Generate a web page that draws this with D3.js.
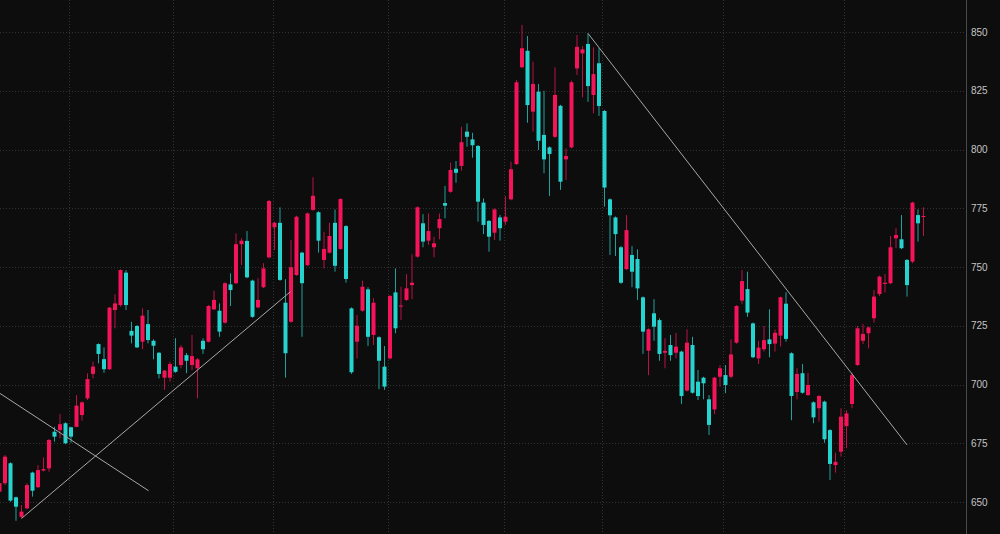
<!DOCTYPE html>
<meta charset="utf-8">
<style>
body { margin: 0; background: #0d0d0d; }
svg { display: block; }
.grid line { stroke: #333; stroke-width: 1; stroke-dasharray: 1 2; shape-rendering: crispEdges; }
.ylabel { font: 10px "Liberation Sans", sans-serif; fill: #c4c4c4; }
.trend { stroke: #a8a8a8; stroke-width: 1; fill: none; }
</style>
<body>
<script src="https://cdn.jsdelivr.net/npm/d3@7"></script>
<script>

// one value per candle, index 0..168
var open = [
654.4,658.0,666.5,652.0,643.7,647.3,662.5,656.3,663.4,664.3,
679.9,680.6,683.5,681.8,682.0,687.0,694.1,704.5,717.2,710.8,
706.5,731.7,733.8,747.6,722.8,724.9,718.2,725.7,718.6,713.5,
702.9,702.9,707.6,708.3,712.5,708.3,706.9,718.6,718.2,732.0,
731.4,726.3,742.6,743.1,759.7,761.1,744.2,732.8,741.4,754.1,
766.9,768.8,734.8,726.7,746.6,756.1,750.8,774.3,773.3,753.0,
756.1,768.8,757.7,767.4,732.4,718.2,731.4,740.5,721.1,720.1,
707.6,711.1,739.2,733.2,736.0,742.3,754.4,768.6,761.2,758.4,
766.5,777.2,782.0,791.8,793.0,807.6,804.3,801.5,777.4,769.6,
764.6,771.1,769.3,778.8,793.8,835.0,842.0,816.1,824.6,806.2,
800.9,805.4,818.6,795.8,800.9,834.5,840.9,844.9,823.2,836.7,
816.4,778.8,771.1,758.4,749.1,755.1,753.4,737.1,714.4,730.3,
727.4,713.5,716.8,713.5,714.0,697.4,716.8,701.2,702.9,693.7,
689.4,703.3,704.0,703.3,717.8,735.7,740.6,726.0,711.1,715.0,
719.2,717.4,720.8,734.4,713.3,696.8,704.8,695.5,692.4,689.9,
692.7,680.6,665.7,671.4,682.3,691.7,708.3,718.6,721.8,728.2,
738.5,742.8,743.1,762.2,761.8,753.0,752.3,772.1,771.4];

var high = [
658.5,670.0,666.9,652.3,648.7,658.0,662.9,665.7,669.0,676.8,
682.0,687.4,683.9,682.0,695.5,692.8,704.8,709.7,717.5,715.8,
733.0,738.4,749.0,748.7,726.7,725.3,732.4,731.7,719.2,713.8,
706.2,709.7,719.7,716.8,713.4,721.1,711.3,719.7,733.8,739.9,
734.5,743.5,747.3,764.3,762.2,765.3,744.6,745.2,751.6,778.5,
769.3,775.4,744.8,761.5,771.8,756.5,773.2,788.2,773.7,765.0,
768.8,774.5,779.3,767.8,732.8,729.6,744.2,741.4,736.7,720.5,
716.4,738.1,749.4,741.6,746.9,755.4,775.8,772.5,772.8,762.9,
772.8,784.5,794.4,795.1,809.7,811.1,807.1,801.9,779.2,770.0,
774.9,772.1,780.2,794.8,829.6,853.0,848.3,837.4,827.9,825.0,
801.3,835.0,819.0,800.5,829.3,848.7,844.0,849.4,843.5,843.1,
816.8,779.2,771.5,758.9,772.1,758.9,757.5,737.5,723.9,736.3,
728.2,719.7,721.1,722.0,714.4,723.5,720.3,706.2,703.3,695.5,
703.3,708.3,708.3,719.2,733.8,748.7,748.0,726.4,718.6,724.9,
732.0,723.4,737.4,739.3,713.7,706.9,708.7,705.0,692.8,695.5,
693.1,681.0,671.0,689.9,689.1,705.0,724.9,725.7,724.7,740.2,
746.3,747.0,763.2,766.5,772.1,753.4,777.8,774.5,775.4];

var low = [
653.8,657.2,650.1,642.0,643.1,646.9,652.3,655.9,663.0,662.9,
675.7,677.1,674.6,675.2,681.8,684.6,693.4,702.6,709.0,705.0,
706.2,723.9,733.1,731.7,717.5,715.5,715.0,717.5,710.7,702.6,
697.7,701.2,705.0,706.9,704.8,706.2,694.1,713.0,717.9,731.6,
720.3,725.9,733.4,742.7,750.8,745.2,728.4,732.4,741.0,753.7,
757.2,744.1,702.9,726.3,746.2,720.3,750.4,773.9,756.1,749.4,
755.7,748.0,757.3,743.3,704.5,711.1,731.0,716.4,716.8,698.0,
697.7,710.7,721.8,727.4,735.6,736.3,754.0,758.4,759.4,754.1,
761.8,770.7,781.6,785.9,791.0,801.2,796.5,769.3,764.0,756.5,
761.5,761.2,767.9,778.4,793.4,834.6,811.4,807.6,799.8,789.9,
780.2,805.0,782.8,787.0,800.5,831.7,822.2,820.3,815.4,814.3,
775.7,755.1,754.7,742.8,748.7,741.4,736.0,713.0,704.0,718.6,
710.1,706.9,710.1,711.1,691.7,697.0,696.1,693.4,693.7,678.5,
687.4,699.1,696.3,702.6,717.4,734.3,728.8,711.2,708.7,714.0,
711.6,714.0,716.2,718.2,684.8,693.7,696.1,695.1,683.5,684.2,
675.2,659.4,662.5,669.3,672.9,689.9,707.9,717.2,715.4,726.3,
737.7,739.1,742.7,758.0,757.6,737.4,751.6,760.8,763.2];

var close = [
658.0,669.3,650.6,648.0,645.9,657.2,654.8,663.6,664.0,676.4,
677.8,683.1,675.0,677.8,691.0,692.4,702.3,707.6,713.0,706.5,
732.7,734.5,748.7,733.8,720.8,715.8,729.3,718.9,716.5,704.5,
705.9,708.7,705.4,715.8,710.1,712.1,710.7,715.0,733.4,736.0,
722.5,743.1,740.2,759.7,761.2,745.6,728.8,736.0,749.4,778.1,
768.8,744.5,713.3,749.9,771.4,743.1,772.8,780.3,761.2,757.7,
763.2,750.5,778.9,744.9,705.2,725.0,741.6,720.3,734.8,710.1,
699.1,737.7,723.9,733.6,740.9,743.3,775.4,760.8,765.3,760.1,
770.4,776.1,791.3,790.1,803.1,805.4,801.8,777.8,767.9,762.9,
774.5,766.5,771.4,791.6,828.6,843.1,818.9,827.9,803.7,795.8,
798.1,823.2,786.3,797.2,828.6,843.7,842.6,827.0,832.1,818.5,
783.8,772.0,764.0,743.3,765.7,748.0,740.9,722.5,723.5,724.6,
713.0,714.3,712.5,716.1,695.1,717.8,696.5,695.1,700.5,682.8,
702.9,706.9,699.8,712.8,733.4,744.0,730.6,711.6,715.7,718.9,
717.2,722.0,737.1,719.4,695.1,704.5,696.5,699.8,686.0,695.1,
676.7,666.2,667.1,686.3,687.7,704.0,723.9,721.5,724.3,737.4,
745.9,743.3,758.4,763.6,758.0,742.3,777.4,768.6,771.7];

var yTicks = [650, 675, 700, 725, 750, 775, 800, 825, 850];
// month separators, in candle-index units
var monthBreaks = [12.6, 31.6, 49.7, 70.7, 91.7, 109.6, 131.6, 153.6];
// drawn trend lines: [index, price] endpoints
var trendLines = [
  [[-0.5, 697.1], [27.1, 654.8]],
  [[4, 643.0], [52.9, 739.5]],
  [[107, 849.4], [165, 674.3]]
];

var W = 1000, H = 534, axisX = 966.5;
var upColor = "#f5145a", downColor = "#26d3cf";

var candles = open.map(function(o, i){
  return {i: i, o: o, h: high[i], l: low[i], c: close[i]};
});

var x = d3.scaleLinear().domain([0, 168]).range([-0.5, 923.5]);
var y = d3.scaleLinear().domain([650, 850]).range([502, 32]);

var svg = d3.select("body").append("svg").attr("width", W).attr("height", H);
svg.append("rect").attr("width", W).attr("height", H).attr("fill", "#0d0d0d");

var grid = svg.append("g").attr("class", "grid");
grid.selectAll(".hg").data(yTicks).enter().append("line")
  .attr("x1", 0).attr("x2", axisX)
  .attr("y1", d => Math.round(y(d)) + 0.5).attr("y2", d => Math.round(y(d)) + 0.5);
grid.selectAll(".vg").data(monthBreaks).enter().append("line")
  .attr("y1", 0).attr("y2", H)
  .attr("x1", d => Math.round(x(d)) + 0.5).attr("x2", d => Math.round(x(d)) + 0.5);

var g = svg.append("g");
var col = d => d.c >= d.o ? upColor : downColor;

g.selectAll(".wick").data(candles).enter().append("line")
  .attr("x1", d => x(d.i)).attr("x2", d => x(d.i))
  .attr("y1", d => y(d.h)).attr("y2", d => y(d.l))
  .attr("stroke", col).attr("stroke-opacity", 0.75).attr("stroke-width", 1);

g.selectAll(".body").data(candles).enter().append("rect")
  .attr("x", d => x(d.i) - 2)
  .attr("width", 4)
  .attr("y", d => y(Math.max(d.o, d.c)))
  .attr("height", d => Math.max(1, Math.abs(y(d.o) - y(d.c))))
  .attr("fill", col);

var line = d3.line().x(d => x(d[0])).y(d => y(d[1]));
svg.selectAll(".trend").data(trendLines).enter().append("path")
  .attr("class", "trend").attr("d", line);

// price scale on the right
svg.append("line").attr("x1", axisX).attr("x2", axisX).attr("y1", 0).attr("y2", H)
  .attr("stroke", "#4a4a4a").attr("stroke-width", 1);
svg.selectAll(".ylabel").data(yTicks).enter().append("text")
  .attr("class", "ylabel")
  .attr("x", 971).attr("y", d => y(d))
  .attr("dy", "0.35em")
  .text(d => d);

</script>
</body>
